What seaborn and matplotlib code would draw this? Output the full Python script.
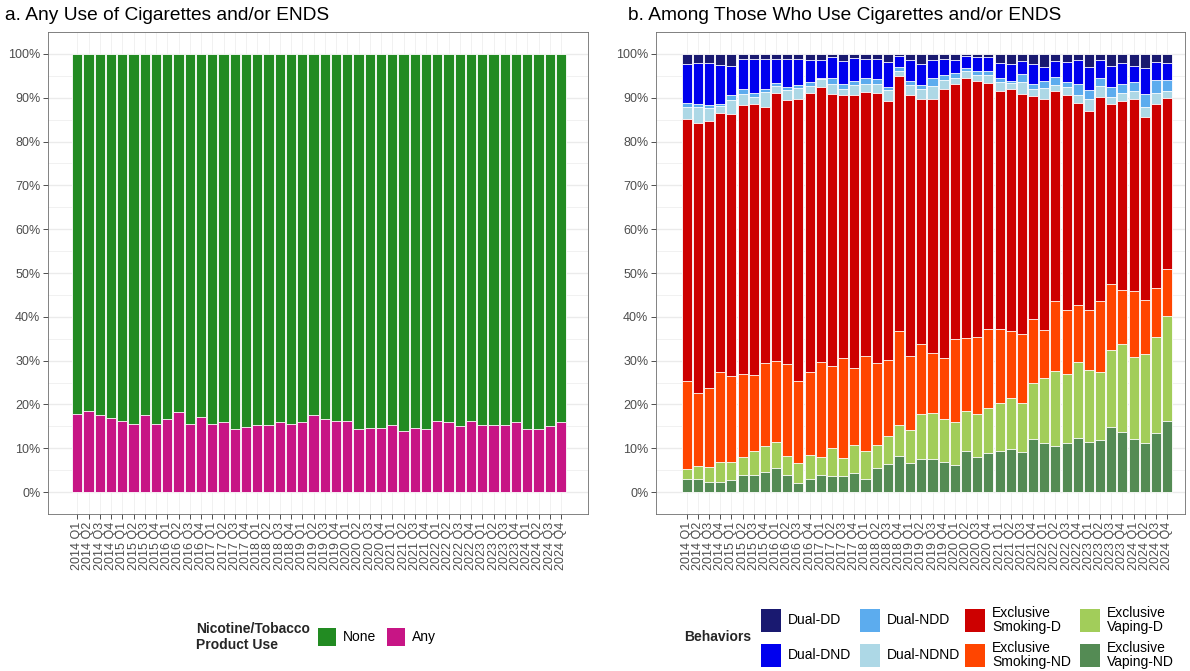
import numpy as np
import pandas as pd
import matplotlib
matplotlib.use("Agg")
import matplotlib.pyplot as plt
from matplotlib.patches import Rectangle
from matplotlib.ticker import MultipleLocator, FuncFormatter
import seaborn as sns

# ---------------------------------------------------------------- data
YEARS = [2014, 2015, 2016, 2017, 2018, 2019, 2020, 2021, 2022, 2023, 2024]
QTRS = ["Q1", "Q2", "Q3", "Q4"]
quarters = [f"{y} {q}" for y in YEARS for q in QTRS]

# Panel a: share of adults with any cigarette and/or ENDS use (%)
any_use = [17.8, 18.5, 17.7, 16.8, 16.3, 15.5, 17.7, 15.6, 16.7, 18.2, 15.5,
           17.2, 15.6, 15.9, 14.4, 14.9, 15.3, 15.2, 16.0, 15.6, 16.1, 17.5,
           16.7, 16.3, 16.3, 14.4, 14.6, 14.7, 15.2, 14.0, 14.7, 14.5, 16.2,
           15.9, 15.0, 16.3, 15.2, 15.3, 15.4, 15.9, 14.4, 14.4, 15.1, 16.0]
none_use = [82.2, 81.5, 82.3, 83.2, 83.7, 84.5, 82.3, 84.4, 83.3, 81.8, 84.5,
            82.8, 84.4, 84.1, 85.6, 85.1, 84.7, 84.8, 84.0, 84.4, 83.9, 82.5,
            83.3, 83.7, 83.7, 85.6, 85.4, 85.3, 84.8, 86.0, 85.3, 85.5, 83.8,
            84.1, 85.0, 83.7, 84.8, 84.7, 84.6, 84.1, 85.6, 85.6, 84.9, 84.0]

# Panel b: behaviour mix among people who use cigarettes and/or ENDS (%)
dual_dd = [2.3, 2.1, 2.1, 2.5, 2.7, 1.2, 1.1, 1.1, 1.1, 1.2, 1.2, 1.4, 1.4,
           0.6, 1.7, 0.9, 1.2, 1.2, 1.8, 0.5, 1.5, 2.4, 1.5, 1.1, 1.3, 0.4,
           0.6, 0.6, 2.0, 2.2, 1.7, 2.2, 2.9, 1.7, 1.8, 1.4, 3.1, 1.4, 2.7,
           2.0, 2.7, 3.3, 1.8, 2.0]
dual_dnd = [9.0, 9.4, 9.5, 9.0, 6.7, 6.9, 7.8, 6.8, 5.5, 6.3, 5.9, 5.1, 4.1,
            5.0, 5.2, 5.2, 4.2, 4.6, 5.8, 2.6, 4.6, 4.7, 4.1, 3.7, 3.1, 2.9,
            3.3, 3.4, 3.6, 3.9, 2.8, 4.6, 3.2, 3.6, 4.7, 5.4, 5.2, 4.2, 4.9,
            4.8, 3.7, 5.8, 4.2, 4.0]
dual_ndd = [0.8, 0.7, 0.8, 0.3, 1.2, 1.0, 1.0, 0.9, 0.8, 0.8, 0.7, 0.8, 0.3,
            1.2, 1.0, 1.0, 1.5, 1.0, 0.7, 0.8, 1.0, 0.8, 1.7, 1.1, 1.1, 0.7,
            0.8, 0.8, 0.9, 0.5, 1.9, 1.1, 1.6, 1.8, 1.1, 2.6, 1.9, 1.8, 2.2,
            2.2, 2.1, 3.0, 2.9, 2.5]
dual_ndnd = [2.7, 3.5, 3.0, 1.6, 3.0, 2.6, 1.6, 3.3, 1.5, 2.3, 2.4, 1.6, 1.8,
             2.4, 1.5, 2.3, 1.7, 2.1, 2.5, 1.2, 2.2, 2.5, 3.1, 2.2, 1.4, 1.6,
             1.5, 1.8, 2.0, 1.5, 2.8, 1.8, 2.5, 1.3, 1.8, 1.7, 2.8, 2.4, 1.7,
             1.8, 1.9, 2.4, 2.5, 1.5]
excl_smoking_d = [59.8, 61.7, 60.9, 59.3, 59.8, 61.3, 61.8, 58.4, 61.1, 60.1,
                  64.5, 63.8, 62.8, 62.1, 60.1, 62.2, 60.3, 61.7, 59.1, 58.2,
                  59.7, 55.7, 57.9, 61.4, 58.1, 59.3, 58.4, 56.2, 54.2, 55.2,
                  54.7, 50.8, 52.7, 47.9, 49.0, 46.2, 45.4, 46.6, 41.1, 43.0,
                  43.6, 41.7, 42.0, 39.1]
excl_smoking_nd = [20.1, 16.6, 17.9, 20.5, 19.7, 19.1, 17.4, 19.0, 18.5, 21.0,
                   18.6, 18.8, 21.5, 18.7, 22.7, 17.7, 21.7, 18.7, 17.2, 21.4,
                   16.8, 16.0, 13.7, 13.9, 19.0, 16.7, 17.5, 17.9, 17.0, 15.3,
                   15.8, 14.5, 11.1, 16.1, 14.7, 13.1, 13.8, 16.1, 15.0, 12.5,
                   15.1, 12.3, 11.2, 10.7]
excl_vaping_d = [2.4, 2.9, 3.4, 4.4, 4.2, 3.9, 5.5, 5.9, 6.1, 4.3, 4.7, 5.5,
                 4.2, 6.3, 4.1, 6.4, 6.3, 5.1, 6.4, 7.0, 7.5, 10.3, 10.4, 9.7,
                 9.8, 9.0, 9.8, 10.3, 10.9, 11.6, 11.1, 12.9, 14.8, 17.1, 15.8,
                 17.3, 16.4, 15.7, 17.5, 20.1, 18.8, 20.3, 21.9, 23.9]
excl_vaping_nd = [2.9, 3.1, 2.4, 2.4, 2.7, 4.0, 3.8, 4.6, 5.4, 4.0, 2.0, 3.0,
                  3.9, 3.7, 3.7, 4.3, 3.1, 5.6, 6.5, 8.3, 6.7, 7.6, 7.6, 6.9,
                  6.2, 9.4, 8.1, 9.0, 9.4, 9.8, 9.2, 12.1, 11.2, 10.5, 11.1,
                  12.3, 11.4, 11.8, 14.9, 13.6, 12.1, 11.2, 13.5, 16.3]

use_labels = ["None", "Any"]
use_colors = ["#228B22", "#C71585"]

behaviors = ["Dual-DD", "Dual-DND", "Dual-NDD", "Dual-NDND",
             "Exclusive\nSmoking-D", "Exclusive\nSmoking-ND",
             "Exclusive\nVaping-D", "Exclusive\nVaping-ND"]
behavior_colors = ["#191970", "#0000EE", "#5CACEE", "#ADD8E6",
                   "#CD0000", "#FF4500", "#A2CD5A", "#548B54"]

# ---------------------------------------------------------------- frames
use_df = pd.DataFrame({"quarter": quarters, "None": none_use, "Any": any_use})
beh_df = pd.DataFrame({
    "quarter": quarters,
    behaviors[0]: dual_dd, behaviors[1]: dual_dnd,
    behaviors[2]: dual_ndd, behaviors[3]: dual_ndnd,
    behaviors[4]: excl_smoking_d, behaviors[5]: excl_smoking_nd,
    behaviors[6]: excl_vaping_d, behaviors[7]: excl_vaping_nd,
})

# ---------------------------------------------------------------- style
sns.set_theme(style="white")
plt.rcParams["font.family"] = ["Liberation Sans", "DejaVu Sans"]

GRID = "#EBEBEB"
TICK_TXT = "#4D4D4D"
FRAME = "#6E6E6E"
W, H = 1190, 671

fig = plt.figure(figsize=(W / 100, H / 100), dpi=100)
fig.patch.set_facecolor("white")


def fx(x):
    return x / W


def fy(y):
    return 1 - y / H


def px_axes(x0, x1, y0, y1):
    return fig.add_axes([fx(x0), fy(y1), (x1 - x0) / W, (y1 - y0) / H])


def stacked(ax, df, cols, colors):
    """Stack columns bottom-up: draw cumulative totals from the top layer down."""
    bottom_up = list(reversed(cols))
    cum = df[bottom_up].cumsum(axis=1)
    for col, color in zip(cols, colors):
        sns.barplot(x=df["quarter"], y=cum[col], color=color, width=0.9,
                    edgecolor="white", linewidth=0.6, saturation=1,
                    errorbar=None, ax=ax, zorder=3)


def style_axes(ax, xlim):
    ax.set_facecolor("white")
    ax.set_ylim(-5, 105)
    ax.set_xlim(*xlim)
    ax.yaxis.set_major_locator(MultipleLocator(10))
    ax.yaxis.set_minor_locator(MultipleLocator(5))
    ax.yaxis.set_major_formatter(FuncFormatter(lambda v, _: f"{v:.0f}%"))
    ax.grid(which="major", axis="y", color=GRID, linewidth=1.0, zorder=0)
    ax.grid(which="minor", axis="y", color=GRID, linewidth=0.5, zorder=0)
    ax.grid(which="major", axis="x", color=GRID, linewidth=0.5, zorder=0)
    ax.set_axisbelow(True)
    ax.set_xlabel("")
    ax.set_ylabel("")
    ax.set_xticks(range(len(quarters)))
    ax.set_xticklabels(quarters, rotation=90, fontsize=9, color=TICK_TXT)
    ax.tick_params(axis="y", which="major", labelsize=9, labelcolor=TICK_TXT,
                   length=3.5, width=0.6, color="#333333", pad=2, left=True)
    ax.tick_params(axis="y", which="minor", length=0)
    ax.tick_params(axis="x", length=3.5, width=0.6, color="#333333", pad=2,
                   bottom=True)
    for s in ax.spines.values():
        s.set_visible(True)
        s.set_color(FRAME)
        s.set_linewidth(0.6)


# ---------------------------------------------------------------- panel a
axA = px_axes(48, 588, 32, 514)
stacked(axA, use_df, use_labels, use_colors)
style_axes(axA, (-2.6, 45.4))

# ---------------------------------------------------------------- panel b
axB = px_axes(656, 1185, 32, 514)
stacked(axB, beh_df, behaviors, behavior_colors)
style_axes(axB, (-2.75, 44.6))

# ---------------------------------------------------------------- titles
fig.text(fx(5), fy(15), "a. Any Use of Cigarettes and/or ENDS",
         fontsize=13.8, ha="left", va="center", color="black")
fig.text(fx(628), fy(15), "b. Among Those Who Use Cigarettes and/or ENDS",
         fontsize=13.8, ha="left", va="center", color="black")


# ---------------------------------------------------------------- legends
def key(x, y_center, w, h, color, label):
    fig.add_artist(Rectangle((fx(x), fy(y_center + h / 2)), w / W, h / H,
                             transform=fig.transFigure, facecolor=color,
                             edgecolor="none"))
    fig.text(fx(x + w + 7), fy(y_center), label, fontsize=10, ha="left",
             va="center", color="black", linespacing=1.05)


fig.text(fx(196), fy(637), "Nicotine/Tobacco\nProduct Use",
         fontsize=10, fontweight="bold", ha="left", va="center",
         linespacing=1.1)
for x, color, label in zip([318, 387], use_colors, use_labels):
    key(x, 637, 18, 18, color, label)

fig.text(fx(684), fy(637), "Behaviors", fontsize=10, fontweight="bold",
         ha="left", va="center")
col_x = [761, 860, 965, 1080]
row_y = [620, 655]
for i, (color, label) in enumerate(zip(behavior_colors, behaviors)):
    key(col_x[i // 2], row_y[i % 2], 20, 23, color, label)

fig.savefig("out.png", dpi=100, facecolor="white")
